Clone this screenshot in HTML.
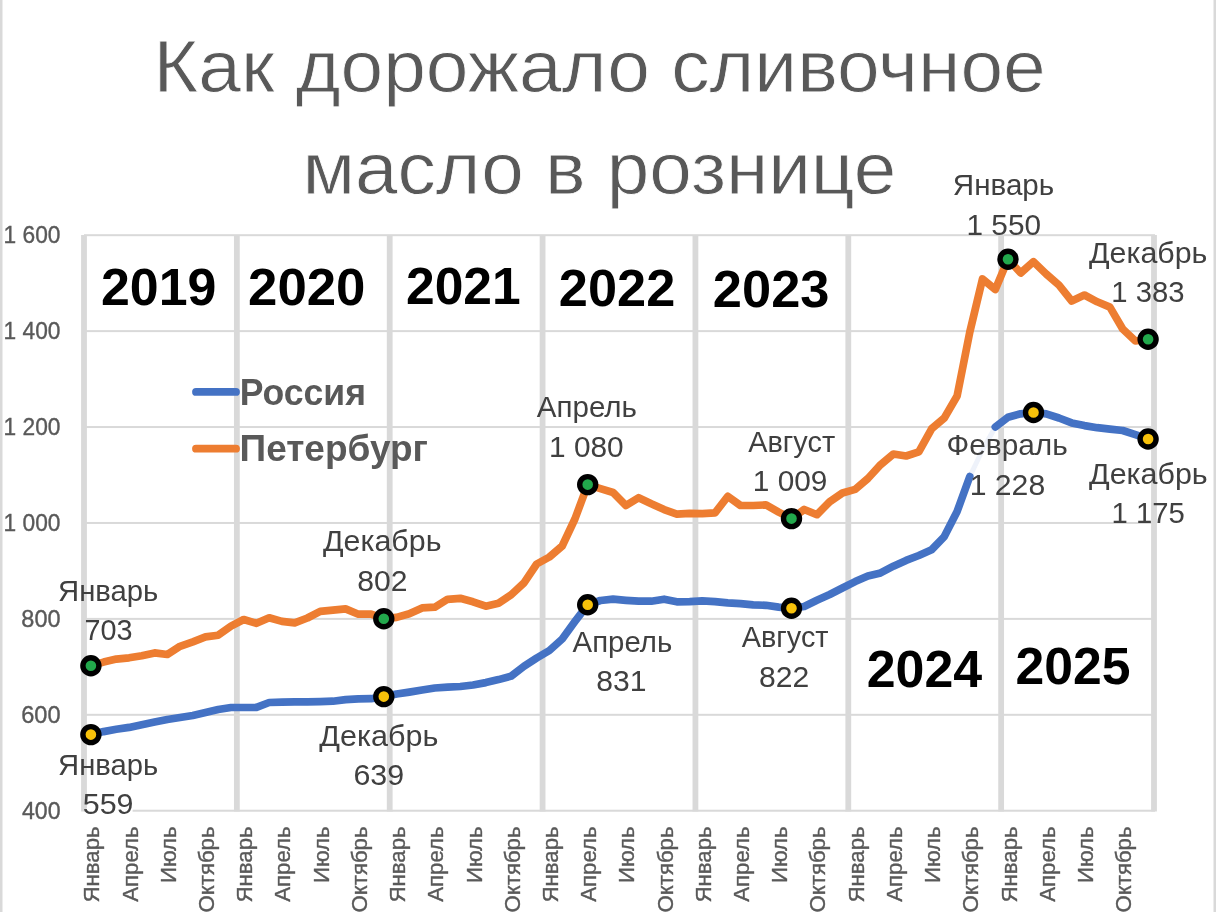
<!DOCTYPE html>
<html><head><meta charset="utf-8"><style>
html,body{margin:0;padding:0;background:#fff;}
svg{display:block;will-change:transform;}
text{font-family:"Liberation Sans", sans-serif;}
</style></head><body>
<svg width="1216" height="912" viewBox="0 0 1216 912">
<rect x="0" y="0" width="1216" height="912" fill="#fff"/>
<rect x="0" y="0" width="2.5" height="912" fill="#d9d9d9"/>
<rect x="1213.5" y="0" width="2.5" height="912" fill="#d9d9d9"/>
<rect x="84" y="809.72" width="1071" height="2" fill="#d9d9d9"/>
<rect x="84" y="713.80" width="1071" height="2" fill="#d9d9d9"/>
<rect x="84" y="617.88" width="1071" height="2" fill="#d9d9d9"/>
<rect x="84" y="521.96" width="1071" height="2" fill="#d9d9d9"/>
<rect x="84" y="426.04" width="1071" height="2" fill="#d9d9d9"/>
<rect x="84" y="330.12" width="1071" height="2" fill="#d9d9d9"/>
<rect x="84" y="234.20" width="1071" height="2" fill="#d9d9d9"/>
<rect x="81.10" y="235" width="5.8" height="576.5" fill="#d9d9d9"/>
<rect x="233.96" y="235" width="5.8" height="576.5" fill="#d9d9d9"/>
<rect x="386.81" y="235" width="5.8" height="576.5" fill="#d9d9d9"/>
<rect x="539.67" y="235" width="5.8" height="576.5" fill="#d9d9d9"/>
<rect x="692.53" y="235" width="5.8" height="576.5" fill="#d9d9d9"/>
<rect x="845.39" y="235" width="5.8" height="576.5" fill="#d9d9d9"/>
<rect x="998.24" y="235" width="5.8" height="576.5" fill="#d9d9d9"/>
<rect x="1151.10" y="235" width="5.8" height="576.5" fill="#d9d9d9"/>
<rect x="86.6" y="808" width="46" height="5" fill="#fff"/>
<polyline points="90.9,665.7 103.6,662.1 116.3,659.1 129.1,657.8 141.8,655.8 154.6,652.9 167.3,654.5 180.0,646.3 192.8,641.8 205.5,636.9 218.2,635.2 231.0,626.2 243.7,619.5 256.5,623.3 269.2,617.8 281.9,621.4 294.7,622.8 307.4,618.0 320.2,611.4 332.9,610.1 345.6,608.9 358.4,614.2 371.1,614.1 383.8,618.7 396.6,617.4 409.3,613.8 422.1,607.9 434.8,607.2 447.5,599.3 460.3,598.3 473.0,601.8 485.8,606.2 498.5,603.2 511.2,594.8 524.0,582.9 536.7,564.0 549.4,557.0 562.2,546.0 574.9,519.0 587.7,484.6 600.4,488.7 613.1,492.5 625.9,505.5 638.6,497.7 651.3,503.8 664.1,509.6 676.8,514.1 689.6,513.4 702.3,513.7 715.0,512.9 727.8,496.4 740.5,505.5 753.2,505.5 766.0,504.9 778.7,512.1 791.5,518.6 804.2,509.5 816.9,514.7 829.7,501.7 842.4,493.0 855.2,489.4 867.9,478.5 880.6,464.7 893.4,454.0 906.1,456.0 918.8,451.8 931.6,428.8 944.3,418.0 957.1,396.0 969.8,332.0 982.5,279.0 995.3,289.5 1008.0,259.2 1020.7,273.0 1033.5,261.7 1046.2,274.0 1059.0,285.1 1071.7,301.0 1084.4,295.0 1097.2,301.8 1109.9,307.1 1122.7,329.0 1135.4,341.0 1148.1,339.3" fill="none" stroke="#ED7D31" stroke-width="7.7" stroke-linejoin="round" stroke-linecap="round"/>
<polyline points="969.8,476.5 982.5,450.0 995.3,427.0" fill="none" stroke="#EEF2FA" stroke-width="5" stroke-linejoin="round"/>
<polyline points="90.9,734.6 103.6,731.6 116.3,729.3 129.1,727.4 141.8,724.7 154.6,722.1 167.3,719.5 180.0,717.5 192.8,715.5 205.5,712.5 218.2,709.5 231.0,707.5 243.7,707.5 256.5,707.3 269.2,702.5 281.9,702.2 294.7,701.8 307.4,701.8 320.2,701.6 332.9,701.2 345.6,699.6 358.4,698.8 371.1,698.7 383.8,696.6 396.6,694.0 409.3,692.1 422.1,690.0 434.8,688.0 447.5,687.2 460.3,686.5 473.0,685.0 485.8,682.6 498.5,679.6 511.2,676.1 524.0,666.3 536.7,658.0 549.4,650.5 562.2,639.0 574.9,621.6 587.7,604.8 600.4,600.5 613.1,599.2 625.9,600.3 638.6,601.2 651.3,601.2 664.1,599.2 676.8,601.8 689.6,601.6 702.3,600.9 715.0,601.6 727.8,602.9 740.5,603.6 753.2,604.9 766.0,605.3 778.7,607.1 791.5,608.3 804.2,606.5 816.9,600.3 829.7,594.5 842.4,588.0 855.2,581.6 867.9,576.0 880.6,572.9 893.4,566.2 906.1,560.4 918.8,555.5 931.6,549.7 944.3,536.6 957.1,511.5 969.8,476.5" fill="none" stroke="#4472C4" stroke-width="7.7" stroke-linejoin="round" stroke-linecap="round"/>
<polyline points="995.3,427.0 1008.0,417.3 1020.7,413.8 1033.5,412.5 1046.2,413.8 1059.0,418.0 1071.7,422.9 1084.4,425.6 1097.2,427.7 1109.9,429.1 1122.7,430.5 1135.4,434.7 1148.1,439.0" fill="none" stroke="#4472C4" stroke-width="7.7" stroke-linejoin="round" stroke-linecap="round"/>
<circle cx="90.9" cy="665.7" r="8" fill="#22A84C" stroke="#000" stroke-width="5.4"/>
<circle cx="383.8" cy="618.7" r="8" fill="#22A84C" stroke="#000" stroke-width="5.4"/>
<circle cx="587.7" cy="484.6" r="8" fill="#22A84C" stroke="#000" stroke-width="5.4"/>
<circle cx="791.5" cy="518.6" r="8" fill="#22A84C" stroke="#000" stroke-width="5.4"/>
<circle cx="1008.0" cy="259.2" r="8" fill="#22A84C" stroke="#000" stroke-width="5.4"/>
<circle cx="1148.1" cy="339.3" r="8" fill="#22A84C" stroke="#000" stroke-width="5.4"/>
<circle cx="90.9" cy="734.6" r="8" fill="#F7C10A" stroke="#000" stroke-width="5.4"/>
<circle cx="383.8" cy="696.6" r="8" fill="#F7C10A" stroke="#000" stroke-width="5.4"/>
<circle cx="587.7" cy="604.8" r="8" fill="#F7C10A" stroke="#000" stroke-width="5.4"/>
<circle cx="791.5" cy="608.3" r="8" fill="#F7C10A" stroke="#000" stroke-width="5.4"/>
<circle cx="1033.5" cy="412.5" r="8" fill="#F7C10A" stroke="#000" stroke-width="5.4"/>
<circle cx="1148.1" cy="439.0" r="8" fill="#F7C10A" stroke="#000" stroke-width="5.4"/>
<line x1="196" y1="391.9" x2="236" y2="391.9" stroke="#4472C4" stroke-width="7.8" stroke-linecap="round"/>
<line x1="196" y1="448.7" x2="236" y2="448.7" stroke="#ED7D31" stroke-width="7.8" stroke-linecap="round"/>
<text transform="translate(153.56 92.00) scale(1.0369 1)" font-size="74" font-weight="400" fill="#595959" stroke="#fff" stroke-width="0.8">Как дорожало сливочное</text>
<text transform="translate(302.45 193.70) scale(1.0331 1)" font-size="74" font-weight="400" fill="#595959" stroke="#fff" stroke-width="0.8">масло в рознице</text>
<text transform="translate(100.98 304.80) scale(0.9977 1)" font-size="52" font-weight="700" fill="#000">2019</text>
<text transform="translate(248.05 305.00) scale(1.0152 1)" font-size="52" font-weight="700" fill="#000">2020</text>
<text transform="translate(405.99 304.30) scale(0.9922 1)" font-size="52" font-weight="700" fill="#000">2021</text>
<text transform="translate(558.87 305.50) scale(1.0063 1)" font-size="52" font-weight="700" fill="#000">2022</text>
<text transform="translate(712.86 307.20) scale(1.0084 1)" font-size="52" font-weight="700" fill="#000">2023</text>
<text transform="translate(866.68 686.70) scale(0.9989 1)" font-size="52" font-weight="700" fill="#000">2024</text>
<text transform="translate(1015.49 683.80) scale(0.9948 1)" font-size="52" font-weight="700" fill="#000">2025</text>
<text transform="translate(239.69 404.90) scale(0.9412 1)" font-size="37.8" font-weight="700" fill="#595959">Россия</text>
<text transform="translate(239.59 460.50) scale(0.9788 1)" font-size="37.8" font-weight="700" fill="#595959">Петербург</text>
<text transform="translate(21.94 818.57) scale(0.9986 1)" font-size="23.2" font-weight="400" fill="#595959" stroke="#595959" stroke-width="0.35">400</text>
<text transform="translate(21.22 722.65) scale(1.0176 1)" font-size="23.2" font-weight="400" fill="#595959" stroke="#595959" stroke-width="0.35">600</text>
<text transform="translate(21.34 626.73) scale(1.0144 1)" font-size="23.2" font-weight="400" fill="#595959" stroke="#595959" stroke-width="0.35">800</text>
<text transform="translate(3.59 530.81) scale(0.9811 1)" font-size="23.2" font-weight="400" fill="#595959" stroke="#595959" stroke-width="0.35">1 000</text>
<text transform="translate(3.59 434.89) scale(0.9811 1)" font-size="23.2" font-weight="400" fill="#595959" stroke="#595959" stroke-width="0.35">1 200</text>
<text transform="translate(3.59 338.97) scale(0.9811 1)" font-size="23.2" font-weight="400" fill="#595959" stroke="#595959" stroke-width="0.35">1 400</text>
<text transform="translate(3.59 243.05) scale(0.9811 1)" font-size="23.2" font-weight="400" fill="#595959" stroke="#595959" stroke-width="0.35">1 600</text>
<text transform="translate(58.04 600.90) scale(1.0092 1)" font-size="29" font-weight="400" fill="#404040">Январь</text>
<text transform="translate(84.56 640.10) scale(0.9940 1)" font-size="29" font-weight="400" fill="#404040">703</text>
<text transform="translate(58.04 774.50) scale(1.0081 1)" font-size="29" font-weight="400" fill="#404040">Январь</text>
<text transform="translate(82.78 814.00) scale(1.0476 1)" font-size="29" font-weight="400" fill="#404040">559</text>
<text transform="translate(323.05 550.90) scale(1.0475 1)" font-size="29" font-weight="400" fill="#404040">Декабрь</text>
<text transform="translate(357.34 590.70) scale(1.0389 1)" font-size="29" font-weight="400" fill="#404040">802</text>
<text transform="translate(319.35 746.20) scale(1.0528 1)" font-size="29" font-weight="400" fill="#404040">Декабрь</text>
<text transform="translate(353.48 785.40) scale(1.0477 1)" font-size="29" font-weight="400" fill="#404040">639</text>
<text transform="translate(536.80 417.40) scale(1.0190 1)" font-size="29" font-weight="400" fill="#404040">Апрель</text>
<text transform="translate(549.06 456.80) scale(1.0287 1)" font-size="29" font-weight="400" fill="#404040">1 080</text>
<text transform="translate(572.60 651.70) scale(1.0129 1)" font-size="29" font-weight="400" fill="#404040">Апрель</text>
<text transform="translate(596.25 690.90) scale(1.0378 1)" font-size="29" font-weight="400" fill="#404040">831</text>
<text transform="translate(748.20 451.60) scale(0.9964 1)" font-size="29" font-weight="400" fill="#404040">Август</text>
<text transform="translate(752.76 491.40) scale(1.0287 1)" font-size="29" font-weight="400" fill="#404040">1 009</text>
<text transform="translate(741.80 647.20) scale(0.9941 1)" font-size="29" font-weight="400" fill="#404040">Август</text>
<text transform="translate(758.94 686.80) scale(1.0389 1)" font-size="29" font-weight="400" fill="#404040">822</text>
<text transform="translate(952.82 194.90) scale(1.0205 1)" font-size="29" font-weight="400" fill="#404040">Январь</text>
<text transform="translate(966.57 234.70) scale(1.0258 1)" font-size="29" font-weight="400" fill="#404040">1 550</text>
<text transform="translate(1089.05 262.80) scale(1.0466 1)" font-size="29" font-weight="400" fill="#404040">Декабрь</text>
<text transform="translate(1111.31 302.40) scale(1.0092 1)" font-size="29" font-weight="400" fill="#404040">1 383</text>
<text transform="translate(946.56 454.60) scale(1.0293 1)" font-size="29" font-weight="400" fill="#404040">Февраль</text>
<text transform="translate(969.64 494.60) scale(1.0410 1)" font-size="29" font-weight="400" fill="#404040">1 228</text>
<text transform="translate(1089.05 483.70) scale(1.0501 1)" font-size="29" font-weight="400" fill="#404040">Декабрь</text>
<text transform="translate(1111.61 522.50) scale(1.0092 1)" font-size="29" font-weight="400" fill="#404040">1 175</text>
<text transform="translate(99.37 902.51) rotate(-90) scale(0.9831 1)" font-size="22.6" fill="#595959" stroke="#595959" stroke-width="0.35">Январь</text>
<text transform="translate(137.58 901.73) rotate(-90) scale(0.9831 1)" font-size="22.6" fill="#595959" stroke="#595959" stroke-width="0.35">Апрель</text>
<text transform="translate(175.80 883.07) rotate(-90) scale(0.9831 1)" font-size="22.6" fill="#595959" stroke="#595959" stroke-width="0.35">Июль</text>
<text transform="translate(214.01 912.51) rotate(-90) scale(0.9831 1)" font-size="22.6" fill="#595959" stroke="#595959" stroke-width="0.35">Октябрь</text>
<text transform="translate(252.23 902.51) rotate(-90) scale(0.9831 1)" font-size="22.6" fill="#595959" stroke="#595959" stroke-width="0.35">Январь</text>
<text transform="translate(290.44 901.73) rotate(-90) scale(0.9831 1)" font-size="22.6" fill="#595959" stroke="#595959" stroke-width="0.35">Апрель</text>
<text transform="translate(328.65 883.07) rotate(-90) scale(0.9831 1)" font-size="22.6" fill="#595959" stroke="#595959" stroke-width="0.35">Июль</text>
<text transform="translate(366.87 912.51) rotate(-90) scale(0.9831 1)" font-size="22.6" fill="#595959" stroke="#595959" stroke-width="0.35">Октябрь</text>
<text transform="translate(405.08 902.51) rotate(-90) scale(0.9831 1)" font-size="22.6" fill="#595959" stroke="#595959" stroke-width="0.35">Январь</text>
<text transform="translate(443.30 901.73) rotate(-90) scale(0.9831 1)" font-size="22.6" fill="#595959" stroke="#595959" stroke-width="0.35">Апрель</text>
<text transform="translate(481.51 883.07) rotate(-90) scale(0.9831 1)" font-size="22.6" fill="#595959" stroke="#595959" stroke-width="0.35">Июль</text>
<text transform="translate(519.73 912.51) rotate(-90) scale(0.9831 1)" font-size="22.6" fill="#595959" stroke="#595959" stroke-width="0.35">Октябрь</text>
<text transform="translate(557.94 902.51) rotate(-90) scale(0.9831 1)" font-size="22.6" fill="#595959" stroke="#595959" stroke-width="0.35">Январь</text>
<text transform="translate(596.15 901.73) rotate(-90) scale(0.9831 1)" font-size="22.6" fill="#595959" stroke="#595959" stroke-width="0.35">Апрель</text>
<text transform="translate(634.37 883.07) rotate(-90) scale(0.9831 1)" font-size="22.6" fill="#595959" stroke="#595959" stroke-width="0.35">Июль</text>
<text transform="translate(672.58 912.51) rotate(-90) scale(0.9831 1)" font-size="22.6" fill="#595959" stroke="#595959" stroke-width="0.35">Октябрь</text>
<text transform="translate(710.80 902.51) rotate(-90) scale(0.9831 1)" font-size="22.6" fill="#595959" stroke="#595959" stroke-width="0.35">Январь</text>
<text transform="translate(749.01 901.73) rotate(-90) scale(0.9831 1)" font-size="22.6" fill="#595959" stroke="#595959" stroke-width="0.35">Апрель</text>
<text transform="translate(787.23 883.07) rotate(-90) scale(0.9831 1)" font-size="22.6" fill="#595959" stroke="#595959" stroke-width="0.35">Июль</text>
<text transform="translate(825.44 912.51) rotate(-90) scale(0.9831 1)" font-size="22.6" fill="#595959" stroke="#595959" stroke-width="0.35">Октябрь</text>
<text transform="translate(863.65 902.51) rotate(-90) scale(0.9831 1)" font-size="22.6" fill="#595959" stroke="#595959" stroke-width="0.35">Январь</text>
<text transform="translate(901.87 901.73) rotate(-90) scale(0.9831 1)" font-size="22.6" fill="#595959" stroke="#595959" stroke-width="0.35">Апрель</text>
<text transform="translate(940.08 883.07) rotate(-90) scale(0.9831 1)" font-size="22.6" fill="#595959" stroke="#595959" stroke-width="0.35">Июль</text>
<text transform="translate(978.30 912.51) rotate(-90) scale(0.9831 1)" font-size="22.6" fill="#595959" stroke="#595959" stroke-width="0.35">Октябрь</text>
<text transform="translate(1016.51 902.51) rotate(-90) scale(0.9831 1)" font-size="22.6" fill="#595959" stroke="#595959" stroke-width="0.35">Январь</text>
<text transform="translate(1054.73 901.73) rotate(-90) scale(0.9831 1)" font-size="22.6" fill="#595959" stroke="#595959" stroke-width="0.35">Апрель</text>
<text transform="translate(1092.94 883.07) rotate(-90) scale(0.9831 1)" font-size="22.6" fill="#595959" stroke="#595959" stroke-width="0.35">Июль</text>
<text transform="translate(1131.15 912.51) rotate(-90) scale(0.9831 1)" font-size="22.6" fill="#595959" stroke="#595959" stroke-width="0.35">Октябрь</text>
</svg></body></html>
